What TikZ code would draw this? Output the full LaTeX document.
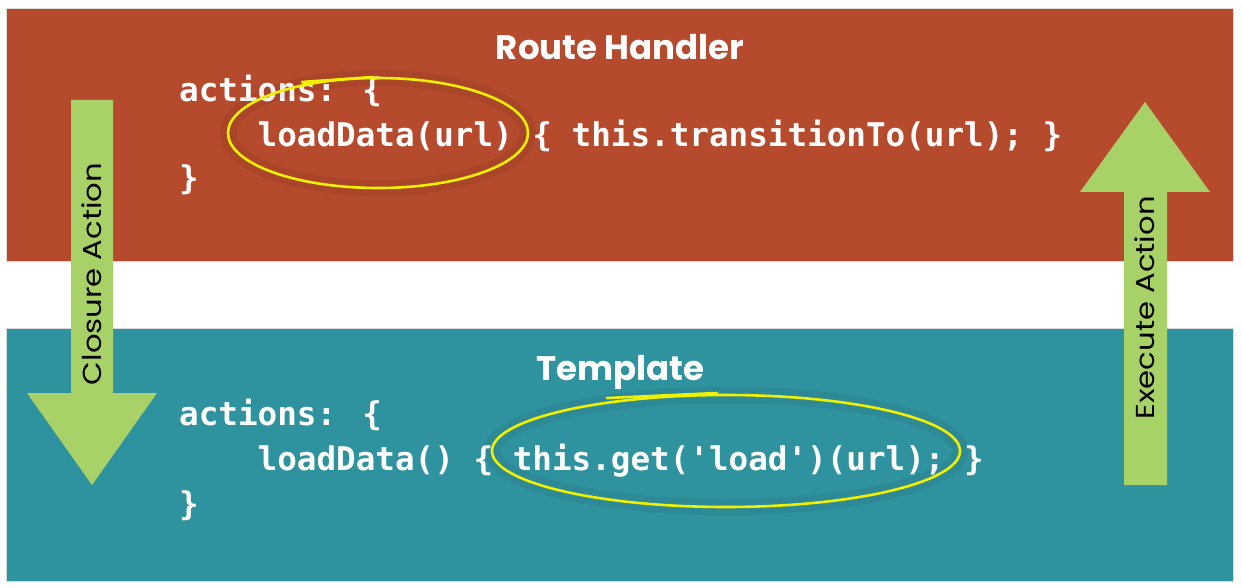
\documentclass[tikz,border=0pt]{standalone}
\usepackage{fontspec}
\setmainfont{Poppins}
\newfontfamily\codefont{DejaVu Sans Mono}
\newfontfamily\headfont{Poppins}
\definecolor{bandred}{RGB}{181,74,45}
\definecolor{bandteal}{RGB}{47,146,159}
\definecolor{arrgreen}{RGB}{168,210,104}
\definecolor{hiyellow}{RGB}{240,240,0}
\tikzset{
  band/.style={draw=black!15, line width=0.6pt, minimum width=1227pt, minimum height=253pt, inner sep=0pt},
  head/.style={text=white, font=\headfont\bfseries\fontsize{34}{36}\selectfont, inner sep=0pt},
  code/.style={text=white, font=\codefont\bfseries\fontsize{32.6}{36}\selectfont, anchor=base west, inner sep=0pt},
  blockarrow/.style={fill=arrgreen, draw=none},
  arrlabel/.style={text=black, font=\fontsize{26}{28}\selectfont, rotate=90, inner sep=0pt},
  circle mark/.style={draw=hiyellow, line width=2.6pt},
  mark shadow/.style={draw=black, opacity=0.06, line width=16pt}
}
\begin{document}
\begin{tikzpicture}[x=1pt,y=-1pt]
\useasboundingbox[fill=white] (0,0) rectangle (1242,588);
% bands
\node[band, fill=bandred] (rhband) at (619.5,134.5) {};
\node[band, fill=bandteal] (tband) at (619.5,454.5) {};
% block arrows
\path[blockarrow] (71,100) -- (113,100) -- (113,393) -- (157,393) -- (92,485) -- (27,393) -- (71,393) -- cycle;
\path[blockarrow] (1124,485) -- (1167,485) -- (1167,192) -- (1210,192) -- (1145,102) -- (1080,192) -- (1124,192) -- cycle;
\node[arrlabel] (closure) at (92,274) {\scalebox{1.18}[1]{Closure Action}};
\node[arrlabel] (execute) at (1145,308) {\scalebox{1.18}[1]{Execute Action}};
% headings
\node[head, anchor=base] (rh) at (620,60) {Route Handler};
\node[head, anchor=base] (tp) at (620,380) {Template};
% code top
\node[code] (t1) at (179,102) {actions: \{};
\node[code] (t2) at (179,147) {\ \ \ \ loadData(url) \{ this.transitionTo(url); \}};
\node[code] (t3) at (179,190) {\}};
% code bottom
\node[code] (b1) at (179,425) {actions: \{};
\node[code] (b2) at (179,470) {\ \ \ \ loadData() \{ this.get('load')(url); \}};
\node[code] (b3) at (179,515) {\}};
% highlight ellipses
\draw[mark shadow] (378,133) ellipse [x radius=150, y radius=55];
\draw[mark shadow] (726,451) ellipse [x radius=234, y radius=56];
\draw[circle mark] (378,133) ellipse [x radius=150, y radius=55];
\draw[circle mark, line cap=round] (302,82) -- (373,77);
\draw[circle mark] (726,451) ellipse [x radius=234, y radius=56];
\draw[circle mark, line cap=round] (607,398) -- (717,393);
\end{tikzpicture}
\end{document}
